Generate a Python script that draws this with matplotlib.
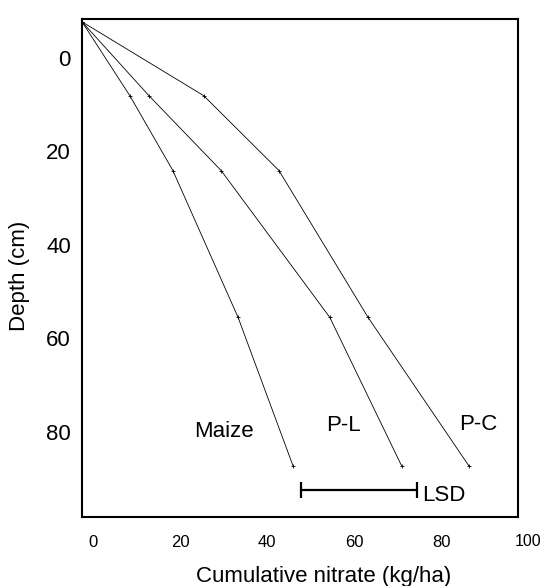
import matplotlib
matplotlib.use("Agg")
import matplotlib.pyplot as plt

plt.rcParams["font.family"] = ["Liberation Sans", "DejaVu Sans"]

# Depth of each sampling point, read against the printed depth scale
depth = [-7.7, 8.1, 24.1, 55.5, 87.4]

# Cumulative nitrate (kg/ha) for each treatment
maize = [-2.6, 8.4, 18.3, 33.3, 46.0]
p_l = [-2.6, 12.8, 29.4, 54.4, 71.0]
p_c = [-2.6, 25.4, 42.7, 63.2, 86.5]

series_names = ["Maize", "P-L", "P-C"]
label_pos = [(30.1, 80.0), (57.5, 78.7), (88.5, 78.5)]

# LSD bar
lsd_start = 47.8
lsd_end = 74.5
lsd_depth = 92.4

x_ticks = [0, 20, 40, 60, 80]
y_ticks = [0, 20, 40, 60, 80]

fig = plt.figure(figsize=(5.42, 5.86), dpi=100)
ax = fig.add_axes([82 / 542, 69 / 586, 436 / 542, 498 / 586])

for values in (maize, p_l, p_c):
    ax.plot(values, depth, color="black", linewidth=0.6,
            marker="+", markersize=3, markeredgewidth=0.6)

for name, (x, y) in zip(series_names, label_pos):
    ax.text(x, y, name, fontsize=16, ha="center", va="center")

ax.errorbar([(lsd_start + lsd_end) / 2], [lsd_depth],
            xerr=[(lsd_end - lsd_start) / 2], color="black",
            linewidth=1.6, capsize=6, capthick=1.6, fmt="none")
ax.text(lsd_end + 1.2, lsd_depth + 1.2, "LSD", fontsize=16,
        ha="left", va="center")

ax.set_xlim(-2.6, 97.7)
ax.set_ylim(98.2, -8.3)

ax.set_xticks(x_ticks)
ax.set_yticks(y_ticks)
ax.tick_params(axis="both", length=0)
ax.tick_params(axis="x", labelsize=12, pad=13)
ax.tick_params(axis="y", labelsize=16, pad=8)
# the last x label sits past the frame in the original
ax.text(100, -0.035, "100", transform=ax.get_xaxis_transform(),
        fontsize=11.5, ha="center", va="top")

for spine in ax.spines.values():
    spine.set_linewidth(1.5)

ax.set_xlabel("Cumulative nitrate (kg/ha)", fontsize=16)
ax.set_ylabel("Depth (cm)", fontsize=16)
ax.xaxis.set_label_coords((324 - 82) / 436, -(566 - 517) / 498)
ax.yaxis.set_label_coords(-(82 - 30) / 436, (517 - 276) / 498)

fig.savefig("out.png", dpi=100)
